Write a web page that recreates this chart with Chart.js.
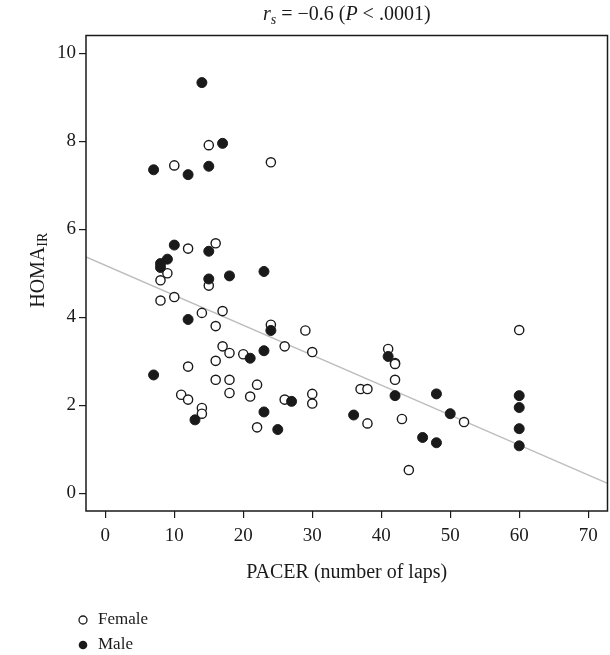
<!DOCTYPE html>
<html>
<head>
<meta charset="utf-8">
<script src="https://cdn.jsdelivr.net/npm/chart.js@4/dist/chart.umd.min.js"></script>
<style>
  body { margin: 0; background: #fff; }
  canvas { display: block; }
</style>
</head>
<body>
<canvas id="grafica" width="610" height="655"></canvas>
<script>
// values
var femalePacer = [15, 10, 24, 12, 16, 9, 8, 15, 8, 10, 14, 17, 16, 24, 17, 26, 18, 20, 30, 29,
                   12, 16, 16, 18, 22, 18, 21, 11, 12, 26, 30, 30, 14, 14, 22,
                   41, 42, 42, 42, 37, 38, 38, 43, 44, 52, 60];
var femaleHoma  = [7.91, 7.45, 7.52, 5.56, 5.68, 5.0, 4.84, 4.72, 4.38, 4.46, 4.1, 4.14, 3.8, 3.83, 3.34, 3.34, 3.19, 3.16, 3.21, 3.7,
                   2.88, 3.01, 2.58, 2.58, 2.47, 2.28, 2.2, 2.24, 2.13, 2.13, 2.26, 2.04, 1.94, 1.81, 1.5,
                   3.28, 2.96, 2.94, 2.58, 2.37, 2.37, 1.59, 1.69, 0.53, 1.62, 3.71];
var malePacer = [14, 17, 7, 12, 15, 10, 15, 9, 8, 8, 15, 18, 23, 12, 24, 23, 21, 7, 27, 13, 23, 25,
                 41, 42, 36, 46, 48, 48, 50, 60, 60, 60, 60];
var maleHoma  = [9.33, 7.95, 7.35, 7.24, 7.43, 5.64, 5.5, 5.32, 5.22, 5.13, 4.87, 4.94, 5.04, 3.95, 3.7, 3.24, 3.07, 2.69, 2.09, 1.67, 1.85, 1.45,
                 3.11, 2.22, 1.78, 1.27, 1.15, 2.26, 1.81, 2.22, 1.95, 1.47, 1.08];
var xTicks = [0, 10, 20, 30, 40, 50, 60, 70];
var yTicks = [0, 2, 4, 6, 8, 10];
var xLimits = [-2.8, 72.8];
var yLimits = [-0.4, 10.4];
var fitIntercept = 5.18;
var fitSlope = -0.068;

var serif = "'Liberation Serif', 'Times New Roman', serif";
var ink = '#1a1a1a';

function puntos(xs, ys) {
    return xs.map(function(x, i){ return {x: x, y: ys[i]}; });
}

// box around the plot + titles + legend
var extras = {
    id: 'extras',
    afterDraw: function(chart) {
        var c = chart.ctx, a = chart.chartArea;
        c.save();
        c.strokeStyle = ink;
        c.lineWidth = 1.5;
        c.strokeRect(a.left, a.top, a.right - a.left, a.bottom - a.top);

        c.fillStyle = ink;
        c.textBaseline = 'alphabetic';
        // title: r_s = −0.6 (P < .0001)
        var parts = [
            {t: 'r', f: 'italic 20px ' + serif, dy: 0},
            {t: 's', f: 'italic 14px ' + serif, dy: 4},
            {t: ' = \u22120.6 (', f: '20px ' + serif, dy: 0},
            {t: 'P', f: 'italic 20px ' + serif, dy: 0},
            {t: ' < .0001)', f: '20px ' + serif, dy: 0}
        ];
        var w = 0;
        parts.forEach(function(p){ c.font = p.f; p.w = c.measureText(p.t).width; w += p.w; });
        var x = (a.left + a.right) / 2 - w / 2;
        parts.forEach(function(p){ c.font = p.f; c.fillText(p.t, x, 20 + p.dy); x += p.w; });

        // x title
        c.font = '20px ' + serif;
        c.textAlign = 'center';
        c.textBaseline = 'middle';
        c.fillText('PACER (number of laps)', (a.left + a.right) / 2, 573);

        // y title HOMA_IR
        c.save();
        c.translate(37, (a.top + a.bottom) / 2 - 3);
        c.rotate(-Math.PI / 2);
        c.textAlign = 'left';
        c.textBaseline = 'alphabetic';
        c.font = '20px ' + serif;
        var w1 = c.measureText('HOMA').width;
        c.font = '14px ' + serif;
        var w2 = c.measureText('IR').width;
        var sx = -(w1 + w2) / 2;
        c.font = '20px ' + serif;
        c.fillText('HOMA', sx, 7);
        c.font = '14px ' + serif;
        c.fillText('IR', sx + w1, 10);
        c.restore();

        // legend
        c.textAlign = 'left';
        c.textBaseline = 'middle';
        c.font = '17px ' + serif;
        c.lineWidth = 1.3;
        c.beginPath(); c.arc(83, 620, 4, 0, Math.PI * 2);
        c.fillStyle = '#fff'; c.fill(); c.stroke();
        c.beginPath(); c.arc(83, 645, 4.3, 0, Math.PI * 2);
        c.fillStyle = ink; c.fill();
        c.fillText('Female', 98, 620);
        c.fillText('Male', 98, 645);
        c.restore();
    }
};

var ctx1 = document.getElementById('grafica').getContext('2d');
var chart = new Chart(ctx1, {
    type: 'scatter',
    data: {
        datasets: [{
            label: 'Male',
            data: puntos(malePacer, maleHoma),
            backgroundColor: ink,
            borderColor: ink,
            borderWidth: 1,
            pointRadius: 5,
            order: 0
        }, {
            label: 'Female',
            data: puntos(femalePacer, femaleHoma),
            backgroundColor: '#fff',
            borderColor: ink,
            borderWidth: 1.4,
            pointRadius: 4.6,
            order: 1
        }, {
            type: 'line',
            label: 'fit',
            data: xLimits.map(function(x){ return {x: x, y: fitIntercept + fitSlope * x}; }),
            borderColor: '#bdbdbd',
            borderWidth: 1.3,
            pointRadius: 0,
            fill: false,
            order: 2
        }]
    },
    options: {
        responsive: false,
        animation: false,
        devicePixelRatio: 1,
        layout: { autoPadding: false, padding: { left: 0, right: 2.5, top: 35.5, bottom: 0 } },
        plugins: { legend: { display: false }, tooltip: { enabled: false } },
        scales: {
            x: {
                type: 'linear',
                min: xLimits[0],
                max: xLimits[1],
                afterBuildTicks: function(s){ s.ticks = xTicks.map(function(v){ return {value: v}; }); },
                afterFit: function(s){ s.height = 144; s.paddingLeft = 0; s.paddingRight = 0; },
                border: { display: false },
                grid: { drawOnChartArea: false, drawTicks: true, tickLength: 7, color: ink, lineWidth: 1.2 },
                ticks: { color: ink, padding: 7, maxRotation: 0, font: { family: serif, size: 19 } }
            },
            y: {
                type: 'linear',
                min: yLimits[0],
                max: yLimits[1],
                afterBuildTicks: function(s){ s.ticks = yTicks.map(function(v){ return {value: v}; }); },
                afterFit: function(s){ s.width = 86; s.paddingTop = 0; s.paddingBottom = 0; },
                border: { display: false },
                grid: { drawOnChartArea: false, drawTicks: true, tickLength: 7, color: ink, lineWidth: 1.2 },
                ticks: { color: ink, padding: 3, font: { family: serif, size: 19 } }
            }
        }
    },
    plugins: [extras]
});
</script>
</body>
</html>
